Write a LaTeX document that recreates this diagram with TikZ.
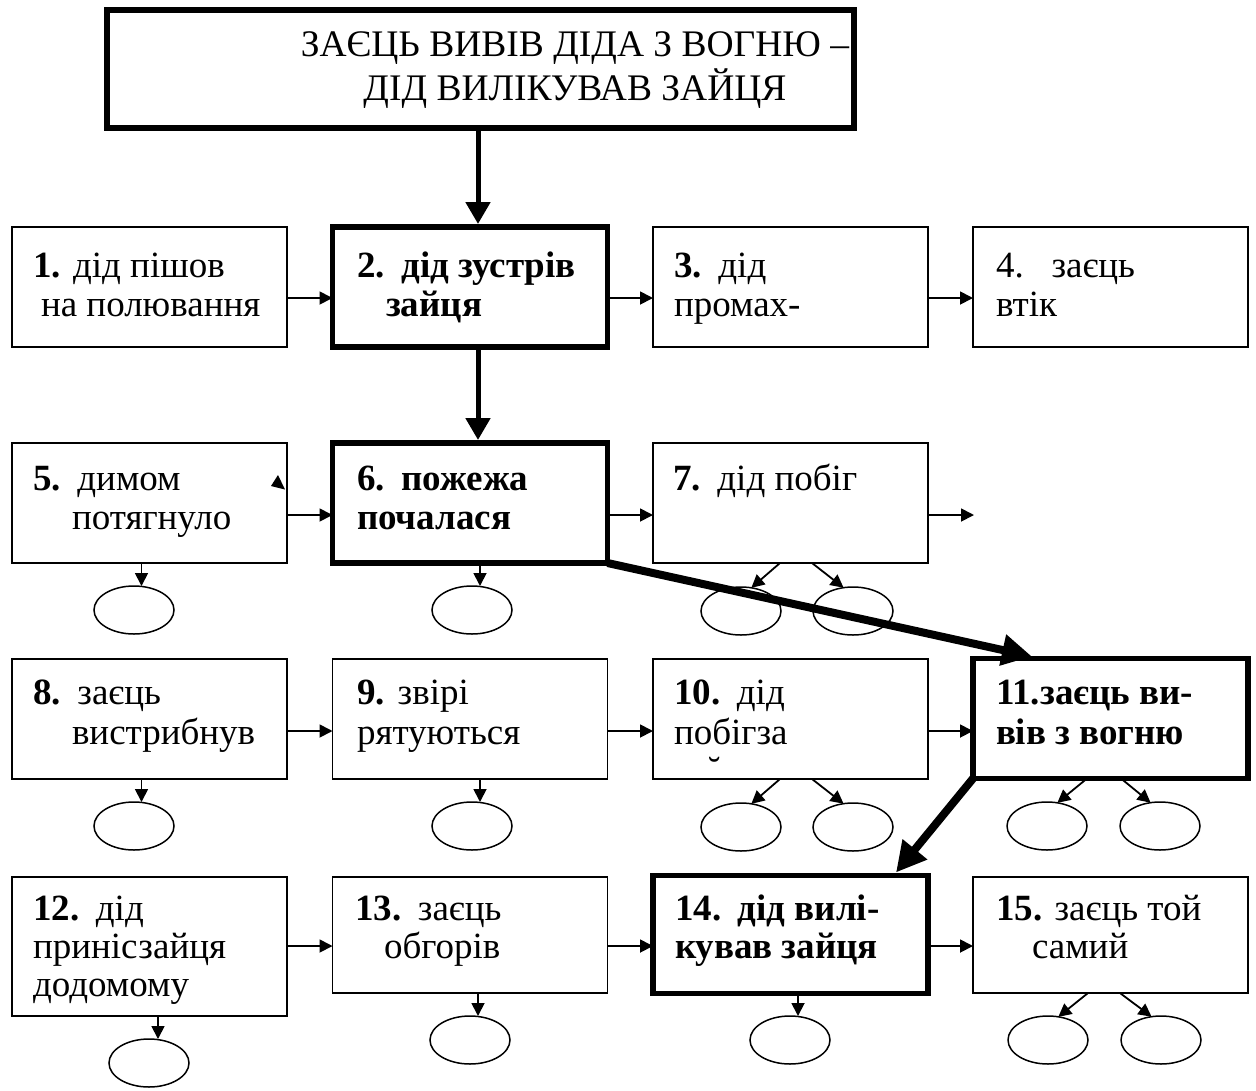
\documentclass[tikz,border=0pt]{standalone}
\usepackage{fontspec}
\setmainfont{Liberation Serif}
\usetikzlibrary{arrows.meta,calc,shapes.geometric}
\tikzset{
  thinbox/.style={draw,line width=1.5pt,inner sep=0pt,outer sep=0pt,minimum width=275pt,minimum height=120pt},
  thickbox/.style={thinbox,line width=5.5pt},
  titlebox/.style={draw,line width=5.5pt,inner sep=0pt,outer sep=0pt,minimum width=747pt,minimum height=118pt},
  txt/.style={anchor=base west,inner sep=0pt,outer sep=0pt,font=\fontsize{37}{44}\selectfont},
  ttl/.style={anchor=base,inner sep=0pt,outer sep=0pt,font=\fontsize{37.5}{44}\selectfont},
  ell/.style={draw,ellipse,line width=1.5pt,minimum width=80pt,minimum height=48pt,inner sep=0pt,outer sep=0pt},
  arr/.style={line width=1.8pt,-{Triangle[length=13pt,width=13pt]}},
  midarr/.style={line width=5pt,-{Triangle[length=22pt,width=24pt]}},
  bigarr/.style={line width=8pt,-{Triangle[length=30pt,width=30pt]}},
}
\begin{document}
\begin{tikzpicture}[x=1pt,y=-1pt]
\useasboundingbox (0,0) rectangle (1256,1090);
% title
\node[titlebox] (title) at (480.5,69) {};
\node[ttl] (tt1) at (575,56) {ЗАЄЦЬ ВИВІВ ДІДА З ВОГНЮ –};
\node[ttl] (tt2) at (575,100) {ДІД ВИЛІКУВАВ ЗАЙЦЯ};
% boxes
\node[thinbox]  (b1) at (149.5,287) {};
\node[thickbox] (b2) at (470,287) {};
\node[thinbox]  (b3) at (790.5,287) {};
\node[thinbox]  (b4) at (1110.5,287) {};
\node[thinbox]  (b5) at (149.5,503) {};
\node[thickbox] (b6) at (470,503) {};
\node[thinbox]  (b7) at (790.5,503) {};
\node[thinbox]  (b8) at (149.5,719) {};
\node[thinbox]  (b9) at (470,719) {};
\node[thinbox]  (b10) at (790.5,719) {};
\node[thickbox] (b11) at (1110.5,718.5) {};
\node[thinbox,minimum height=139pt] (b12) at (149.5,946.5) {};
\node[thinbox,minimum height=116pt]  (b13) at (470,935) {};
\node[thickbox,minimum height=118pt] (b14) at (790.5,934.5) {};
\node[thinbox,minimum height=116pt]  (b15) at (1110.5,935) {};
% texts
\node[txt] (t1a) at (33,277) {\textbf{1.} дід пішов};
\node[txt] (t1b) at (41,316) {на полювання};
\node[txt] (t2a) at (357,277) {\textbf{2.\hspace{0.45em}дід зустрів}};
\node[txt] (t2b) at (386,316) {\textbf{зайця}};
\node[txt] (t3a) at (674,277) {\textbf{3.}\hspace{0.45em}дід};
\node[txt] (t3b) at (674,316) {промах-};
\node[txt] (t4a) at (996,277) {4.\hspace{0.75em}заєць};
\node[txt] (t4b) at (996,316) {втік};
\node[txt] (t5a) at (33,490) {\textbf{5.}\hspace{0.45em}димом};
\node[txt] (t5b) at (72,529) {потягнуло};
\node[txt] (t6a) at (357,490) {\textbf{6.\hspace{0.45em}пожежа}};
\node[txt] (t6b) at (357,529) {\textbf{почалася}};
\node[txt] (t7a) at (673,490) {\textbf{7.}\hspace{0.45em}дід побіг};
\node[txt] (t8a) at (33,704) {\textbf{8.}\hspace{0.45em}заєць};
\node[txt] (t8b) at (72,744) {вистрибнув};
\node[txt] (t9a) at (357,704) {\textbf{9.}\hspace{0.35em}звірі};
\node[txt] (t9b) at (357,744) {рятуються};
\node[txt] (t10a) at (674,704) {\textbf{10.}\hspace{0.45em}дід};
\node[txt] (t10b) at (674,744) {побігза};
\node[txt] (t10c) at (708,782) {˘};
\node[txt] (t11a) at (996,704) {\textbf{11.заєць ви-}};
\node[txt] (t11b) at (996,744) {\textbf{вів з вогню}};
\node[txt] (t12a) at (33,920) {\textbf{12.}\hspace{0.45em}дід};
\node[txt] (t12b) at (33,958) {принісзайця};
\node[txt] (t12c) at (33,996) {додомому};
\node[txt] (t13a) at (355,920) {\textbf{13.}\hspace{0.45em}заєць};
\node[txt] (t13b) at (384,958) {обгорів};
\node[txt] (t14a) at (675,920) {\textbf{14.\hspace{0.45em}дід вилі-}};
\node[txt] (t14b) at (675,958) {\textbf{кував зайця}};
\node[txt] (t15a) at (996,920) {\textbf{15.} заєць той};
\node[txt] (t15b) at (1032,958) {самий};
% ellipses
\node[ell] (e5) at (134,610) {};
\node[ell] (e6) at (472,610) {};
\node[ell] (e7a) at (741,611) {};
\node[ell] (e7b) at (853,611) {};
\node[ell] (e8) at (134,826) {};
\node[ell] (e9) at (472,826) {};
\node[ell] (e10a) at (741,827) {};
\node[ell] (e10b) at (853,827) {};
\node[ell] (e11a) at (1047,826) {};
\node[ell] (e11b) at (1160,826) {};
\node[ell] (e12) at (149,1063) {};
\node[ell] (e13) at (470,1040) {};
\node[ell] (e14) at (790,1040) {};
\node[ell] (e15a) at (1048,1040) {};
\node[ell] (e15b) at (1161,1040) {};
% main vertical arrows
\coordinate (a2) at ($(b2.north)+(8,-3)$);
\draw[midarr] (title.south -| a2) -- (a2);
\coordinate (a6) at ($(b6.north)+(8,-3)$);
\draw[midarr] (b2.south -| a6) -- (a6);
% horizontal arrows (one height per row)
\coordinate (r1) at (0,298);
\coordinate (r2) at (0,515);
\coordinate (r3) at (0,731);
\coordinate (r4) at (0,946);
\foreach \u/\v/\r in {b1/b2/r1,b2/b3/r1,b3/b4/r1,b5/b6/r2,b6/b7/r2,b8/b9/r3,b9/b10/r3,b10/b11/r3,b12/b13/r4,b13/b14/r4,b14/b15/r4}{
  \draw[arr] (\u.east |- \r) -- (\v.west |- \r);
}
\coordinate (x7) at ($(b7.east |- r2)+(46,0)$);
\draw[arr] (b7.east |- r2) -- (x7);
% down arrows to single ellipses
\foreach \b/\e/\dx in {b5/e5/-8,b6/e6/10,b8/e8/-8,b9/e9/10,b12/e12/8.5,b13/e13/8,b14/e14/7.5}{
  \coordinate (s) at ($(\b.south)+(\dx,0)$);
  \draw[arr] (s) -- (s |- \e.north);
}
% diagonal arrows to paired ellipses
\draw[arr] ($(b7.south west)+(127,0)$) -- (e7a.66);
\draw[arr] ($(b7.south west)+(159,0)$) -- (e7b.112);
\draw[arr] ($(b10.south west)+(127,0)$) -- (e10a.66);
\draw[arr] ($(b10.south west)+(159,0)$) -- (e10b.112);
\draw[arr] ($(b11.south west)+(114,0)$) -- (e11a.66);
\draw[arr] ($(b11.south west)+(148,0)$) -- (e11b.112);
\draw[arr] ($(b15.south west)+(115,0)$) -- (e15a.66);
\draw[arr] ($(b15.south west)+(147,0)$) -- (e15b.112);
% thick diagonal arrows
\draw[bigarr] (b6.south east) -- ($(b11.north west)+(59,-2)$);
\draw[bigarr] (b11.south west) -- ($(b14.north east)+(-32,-3)$);
% stray arrow tip
\fill (278,475) -- (271,486) -- (285,489.5) -- cycle;
\end{tikzpicture}
\end{document}
